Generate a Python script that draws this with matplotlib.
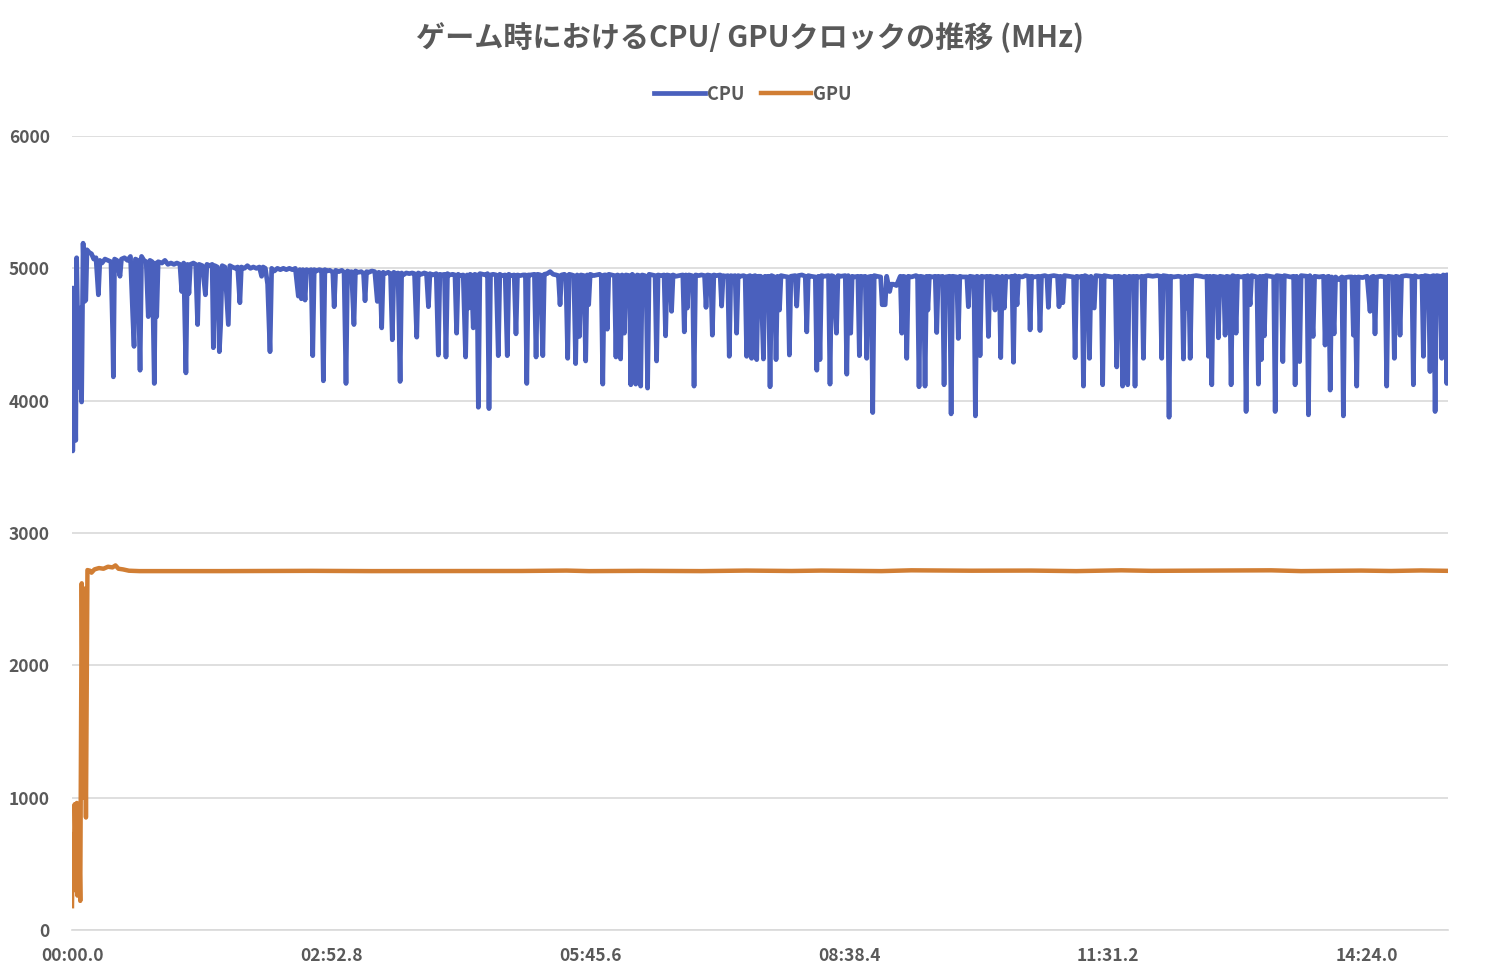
import matplotlib
matplotlib.use("Agg")
import matplotlib.pyplot as plt

plt.rcParams['font.family'] = ['Noto Sans CJK JP', 'DejaVu Sans']

title = "ゲーム時におけるCPU/ GPUクロックの推移 (MHz)"
series_names = ["CPU", "GPU"]
x_tick_seconds = [0, 172.8, 345.6, 518.4, 691.2, 864.0]
x_tick_labels = ["00:00.0", "02:52.8", "05:45.6", "08:38.4", "11:31.2", "14:24.0"]
y_ticks = [0, 1000, 2000, 3000, 4000, 5000, 6000]

# CPU clock (seconds, MHz)
cpu_seg1 = [(0,4850),(0.5,3620),(1.5,4500),(2.5,3700),(3.1,5080),(4.2,4300),(4.9,4100),(5.6,4700),(6.4,3990),(7.4,5190),(8.4,4750),(9.2,4760),(10,5140),(11.5,5120),(13,5110),(14.5,5070),(16,5080),(17.6,4800),(18.6,5060),(20,5040),(22,5070),(24,5060),(26,5050),(27.2,4470),(27.6,4180),(28.4,5070),(30,5060),(32,4940),(33,5070),(35,5080),(37,5060),(39,5090),(40.5,4650),(41.4,4410),(42.3,5070),(44,5060),(45.4,4230),(46.4,5090),(48,5060),(49.5,5050),(50.9,4635),(52,5060),(53.5,5050),(54.9,4130),(55.8,5040),(56.5,4635),(57.5,5050),(60,5040),(62,5060),(64,5030),(66,5040),(68,5030),(70,5040),(72,5030),(73.2,4825),(74.5,5040),(76,4210),(77,5030),(78,4810),(79,5030),(81,5040),(82.5,5030),(83.8,4575),(84.8,5030),(87,5020),(89,4800),(90,5030),(92,5020),(93.5,5030),(94.3,4400),(95.3,5020),(97,5010),(98.3,4370),(99.2,4580),(100.2,5020),(102,5010),(104.3,4575),(105.3,5020),(107,5010),(109,5000),(110.5,5010),(112,4740),(113,5010),(115,5000),(117,5020),(119,5000),(121,5010),(123,5000),(125,5010),(126.5,4940),(127.5,5010),(129,5000),(130.5,4880),(132.1,4370),(133.2,5000),(135,4980),(137,5000),(139,4990),(141,5000),(143,4990),(145,5000),(147,4990),(149,5000),(151,4790),(152,4990)]
cpu_seg2 = [(153,4770),(154,4990),(155.5,4760),(156.5,4990),(158,4980),(159.5,4990),(160.6,4340),(161.6,4990),(163,4980),(165,4990),(166.5,4985),(167.7,4150),(168.7,4990),(170,4980),(172,4985),(174,4970),(174.9,4710),(175.9,4985),(178,4975),(180,4985),(181.5,4970),(182.8,4130),(183.8,4980),(185,4970),(186.5,4975),(188.1,4575),(189.1,4980),(191,4970),(193,4975),(194.5,4960),(195.5,4755),(196.5,4975),(198,4970),(200,4980),(202,4975),(203.7,4750),(204.7,4970),(205.5,4965),(206.6,4550),(207.6,4970),(209,4960),(211,4970),(212.5,4960),(213.7,4460),(214.7,4970),(216,4960),(217.5,4965),(218.9,4145),(219.9,4965),(221,4950),(223,4965),(225,4960),(227,4965),(228.5,4960),(230,4480),(231,4965),(233,4955),(235,4965),(236.5,4960),(237.8,4710),(238.8,4960),(240.5,4950),(242,4955),(243,4960),(244.4,4345),(245.4,4955),(247,4950),(248.5,4955),(249.5,4330),(250.5,4960),(252,4950),(254,4955),(255.5,4950),(256.6,4510),(257.6,4955),(259,4945),(261,4950),(262.6,4330),(263.6,4950),(264.6,4700),(265.6,4955),(266.5,4950),(267.7,4550),(268.7,4955),(269.4,4600),(270.2,4950),(271.1,3950),(272.1,4960),(274,4955),(276,4950),(277.2,4960),(278.2,3940),(279.2,4950),(281,4955),(283,4950),(284.4,4340),(285.4,4955),(287,4945),(289,4950),(290.4,4340),(291.4,4955),(293,4945),(295,4950),(296.2,4505),(297.2,4950),(299,4945),(301,4950),(302.5,4950),(303.4,4130),(304.4,4950)]
cpu_seg3 = [(306,4950),(308.5,4955),(309.6,4330),(310.6,4955),(312.5,4950),(314.1,4340),(315.1,4955),(317,4960),(319,4975),(321,4955),(323,4950),(324.5,4945),(325.6,4725),(326.6,4950),(328.5,4955),(329.5,4945),(330.7,4320),(331.7,4955),(333.5,4950),(334.8,4945),(336,4280),(337,4950),(338.5,4485),(339.5,4950),(341.5,4945),(342.7,4300),(343.7,4950),(344.7,4725),(345.7,4955),(348,4945),(350,4950),(352,4955),(353.1,4945),(354.1,4125),(355.1,4950),(356.1,4950),(357.1,4540),(358.1,4955),(360,4950),(361.9,4945),(362.9,4330),(363.9,4950),(365,4945),(366,4315),(367,4950),(368.5,4510),(369.5,4950),(371.8,4945),(372.8,4120),(373.8,4955),(375.1,4940),(376.1,4125),(377.1,4950),(378.4,4945),(379.4,4110),(380.4,4950),(382,4945),(383,4940),(384,4095),(385,4955),(387,4950),(389,4945),(390,4300),(391,4950),(393,4945),(395,4950),(396,4490),(397,4950),(399,4945),(400,4675),(401,4950),(403,4940),(405,4945),(407.5,4950),(408.5,4520),(409.5,4950),(410.5,4700),(411.5,4950),(413.5,4945),(414,4940),(415,4110),(416,4950),(418,4945),(420,4950),(422,4945),(423,4705),(424,4950),(426.2,4945),(427.2,4495),(428.2,4950),(430,4945),(432.4,4950),(433.4,4715),(434.4,4945),(436,4940),(437.5,4945),(438.5,4335),(439.5,4945),(441,4940),(442.4,4945),(443.4,4510),(444.4,4945),(446,4940),(448,4945),(449.1,4940),(450.1,4335),(451.1,4940),(452.4,4945),(453.4,4320),(454.4,4940),(455.8,4945),(456.8,4310),(457.8,4940)]
cpu_seg4 = [(459.5,4940),(460.3,4680),(461.3,4315),(462.3,4940),(464,4935),(464.7,4940),(465.7,4105),(466.7,4945),(468.7,4935),(469.7,4310),(470.7,4940),(472,4685),(473,4945),(475,4940),(477.6,4935),(478.6,4345),(479.6,4940),(482.5,4945),(483.5,4715),(484.5,4945),(487,4950),(489.2,4940),(490.2,4520),(491.2,4945),(493,4940),(495.9,4935),(496.9,4230),(497.9,4940),(499,4310),(500,4945),(502,4940),(504.7,4945),(505.7,4125),(506.7,4945),(508,4940),(510,4510),(511,4945),(513,4940),(515.9,4945),(516.9,4200),(517.9,4945),(519.5,4510),(520.5,4940),(522,4935),(524.3,4940),(525.3,4340),(526.3,4940),(528,4935),(529.2,4940),(530.2,4320),(531.2,4935),(533.2,4940),(534.2,3910),(535.2,4945),(537,4940),(539.5,4935),(540.5,4725),(541.5,4725),(542.5,4725),(543.5,4940),(545.5,4825),(546.5,4880),(548,4880),(550,4870),(552.6,4940),(553.6,4510),(554.6,4940),(555.9,4935),(556.9,4320),(557.9,4940),(560,4935),(563,4945),(564.1,4940),(565.1,4105),(566.1,4940),(568.1,4935),(569.1,4110),(570.1,4940),(571,4685),(572,4940),(574,4935),(575.9,4940),(576.9,4515),(577.9,4940),(579.5,4935),(580.8,4940),(581.8,4120),(582.8,4935),(585.5,4940),(586.5,3900),(587.5,4940),(590.3,4935),(591.3,4470),(592.3,4940),(594,4935),(597,4935),(598,4710),(599,4940),(601.7,4935),(602.7,3885),(603.7,4940),(604.8,4935),(605.8,4340),(606.8,4940),(609,4935),(610.4,4940),(611.4,4485),(612.4,4940)]
cpu_seg5 = [(614.8,4935),(615.8,4685),(616.8,4940),(618.6,4935),(619.6,4325),(620.6,4940),(622,4700),(623,4940),(625,4935),(627.1,4940),(628.1,4290),(629.1,4945),(630.5,4725),(631.5,4940),(634,4935),(636,4945),(638.2,4940),(639.2,4535),(640.2,4940),(642,4935),(644.8,4940),(645.8,4530),(646.8,4940),(649,4945),(650.4,4940),(651.4,4705),(652.4,4940),(655,4945),(657.5,4940),(658.5,4710),(659.5,4940),(661,4740),(662,4945),(665,4940),(668.2,4935),(669.2,4325),(670.2,4940),(672,4935),(673.8,4940),(674.8,4110),(675.8,4945),(677.8,4935),(678.8,4320),(679.8,4940),(682,4700),(683,4945),(686.6,4940),(687.6,4120),(688.6,4945),(691,4940),(694,4935),(696,4940),(697,4255),(698,4940),(699.9,4935),(700.9,4110),(701.9,4940),(703.3,4935),(704.3,4120),(705.3,4940),(707,4935),(708.2,4940),(709.2,4110),(710.2,4940),(712,4935),(713.8,4940),(714.8,4320),(715.8,4940),(718,4945),(721,4940),(724,4945),(726,4940),(727,4320),(728,4945),(730.9,4940),(731.9,3875),(732.9,4940),(735,4935),(738,4940),(740.5,4935),(741.5,4315),(742.5,4940),(744,4700),(745,4940),(746,4320),(747,4940),(750,4945),(753,4940),(755,4935),(757.2,4940),(758.2,4335),(759.2,4940),(760.4,4120),(761.4,4940),(763.8,4935),(764.8,4475),(765.8,4940)]
cpu_seg6 = [(768.3,4935),(769.3,4495),(770.3,4940),(772.3,4935),(773.3,4120),(774.3,4945),(775.6,4940),(776.6,4510),(777.6,4940),(780,4935),(782.3,4940),(783.3,3918),(784.3,4945),(786,4725),(787,4945),(789,4940),(790.5,4935),(791.5,4125),(792.5,4940),(793.5,4310),(794.5,4940),(795.5,4490),(796.5,4945),(799,4940),(801.7,4935),(802.7,3918),(803.7,4945),(806.8,4940),(807.8,4295),(808.8,4945),(811,4940),(813,4935),(815,4940),(816,4120),(817,4940),(819,4295),(820,4945),(823.9,4940),(824.9,3893),(825.9,4945),(828,4485),(829,4940),(832,4935),(835,4940),(836,4420),(837,4935),(838.4,4940),(839.4,4080),(840.4,4935),(842,4505),(843,4935),(845,4915),(847.2,4935),(848.2,3885),(849.2,4930),(852,4935),(853.9,4935),(854.9,4495),(855.9,4935),(857.1,4110),(858.1,4935),(861,4930),(864,4940),(866,4675),(867,4935),(868.3,4940),(869.3,4505),(870.3,4935),(873,4940),(876.1,4935),(877.1,4110),(878.1,4940),(881.2,4935),(882.2,4320),(883.2,4940),(885,4935),(886,4495),(887,4940),(890,4945),(893.9,4940),(894.9,4120),(895.9,4945),(898,4935),(900.6,4940),(901.6,4335),(902.6,4945),(905,4940),(906,4220),(907,4940),(908.4,4945),(909.4,3918),(910.4,4945),(912.8,4940),(913.8,4320),(914.8,4950),(916.2,4945),(917.2,4130),(918,4950)]

# GPU clock (seconds, MHz)
gpu_points = [(0,180),(0.5,720),(1.0,300),(1.8,950),(2.5,600),(3.2,960),(3.6,260),(4.5,880),(5.5,220),(6.5,2620),(7.5,1000),(8.3,2580),(9.3,850),(10.3,2720),(12,2715),(13,2700),(15,2725),(18,2735),(21,2730),(24,2745),(27,2740),(29,2755),(31,2730),(34,2725),(38,2715),(45,2712),(60,2712),(100,2712),(160,2714),(200,2712),(300,2713),(330,2716),(345,2712),(380,2714),(420,2712),(450,2716),(480,2713),(500,2716),(540,2712),(560,2718),(600,2715),(640,2716),(670,2712),(700,2718),(720,2714),(760,2716),(800,2718),(820,2712),(860,2716),(880,2713),(900,2717),(918,2714)]

cpu_points = cpu_seg1 + cpu_seg2 + cpu_seg3 + cpu_seg4 + cpu_seg5 + cpu_seg6
cpu_t = [p[0] for p in cpu_points]
cpu_v = [p[1] for p in cpu_points]
gpu_t = [p[0] for p in gpu_points]
gpu_v = [p[1] for p in gpu_points]

CPU_COLOR = "#4A60BD"
GPU_COLOR = "#D17E34"
TEXT_COLOR = "#595959"
GRID_COLOR = "#D9D9D9"

fig = plt.figure(figsize=(15, 9.77), dpi=100)
ax = fig.add_axes([72/1500, 1-930/977, (1448-72)/1500, (930-136)/977])

ax.plot(gpu_t, gpu_v, color=GPU_COLOR, lw=3.2, solid_joinstyle='round', label=series_names[1], zorder=3)
ax.plot(cpu_t, cpu_v, color=CPU_COLOR, lw=3.4, solid_joinstyle='round', label=series_names[0], zorder=4)

ax.set_xlim(0, 918)
ax.set_ylim(0, 6000)
ax.set_yticks(y_ticks)
ax.set_yticklabels([str(v) for v in y_ticks])
ax.set_xticks(x_tick_seconds)
ax.set_xticklabels(x_tick_labels)
ax.grid(axis='y', color=GRID_COLOR, lw=1.2)
ax.set_axisbelow(True)
for s in ['top', 'right', 'left']:
    ax.spines[s].set_visible(False)
ax.spines['bottom'].set_color(GRID_COLOR)
ax.spines['bottom'].set_linewidth(1.2)
ax.tick_params(axis='both', length=0, labelcolor=TEXT_COLOR, labelsize=12.5)
ax.tick_params(axis='y', pad=16)
ax.tick_params(axis='x', pad=12)
for lab in ax.get_xticklabels() + ax.get_yticklabels():
    lab.set_fontweight('bold')

fig.text(0.5, 1-38/977, title, ha='center', va='center', fontsize=21,
         fontweight='bold', color=TEXT_COLOR)

handles, labels = ax.get_legend_handles_labels()
order = [1, 0]
leg = fig.legend([handles[i] for i in order], [labels[i] for i in order],
                 loc='center', bbox_to_anchor=(753/1500, 1-94/977), ncol=2, frameon=False,
                 fontsize=13, handlelength=2.8, handletextpad=0.1, columnspacing=0.9)
for t in leg.get_texts():
    t.set_color(TEXT_COLOR)
    t.set_fontweight('bold')

fig.savefig("out.png", dpi=100)
